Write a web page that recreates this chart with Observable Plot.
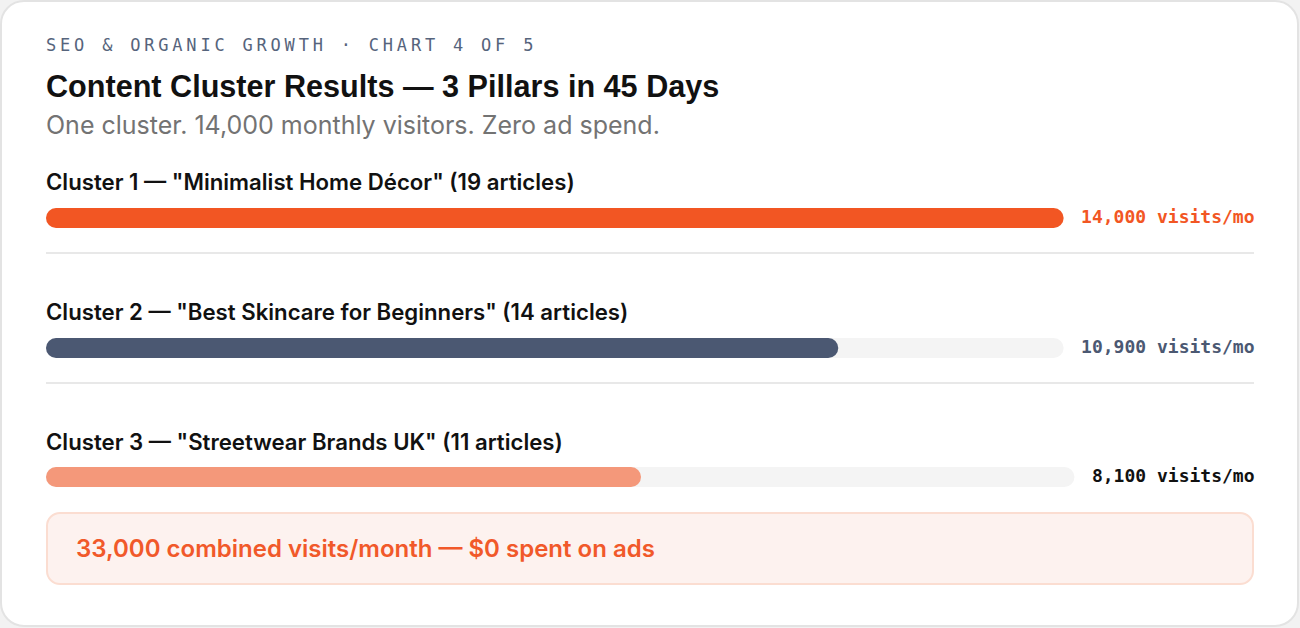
<!DOCTYPE html>
<html><head><meta charset="utf-8">
<script src="https://cdn.jsdelivr.net/npm/d3@7"></script>
<script src="https://cdn.jsdelivr.net/npm/@observablehq/plot@0.6"></script>
<style>
html,body{margin:0;padding:0}
body{background:#f2f2f2;width:1300px;height:628px;overflow:hidden;font-family:Inter,"Noto Sans",sans-serif;position:relative}
.card{position:absolute;left:0;top:0;width:1299px;height:627px;box-sizing:border-box;background:#fff;border:2px solid #e3e3e3;border-radius:24px}
.abs{position:absolute;white-space:nowrap}
.eyebrow{left:46px;top:35px;font-family:"DejaVu Sans Mono",monospace;font-size:17px;letter-spacing:3.8px;color:#56647c;line-height:20px}
.title{left:46px;top:68px;font-family:"Liberation Sans",Arial,sans-serif;font-weight:700;font-size:30.6px;line-height:36px;color:#111}
.subtitle{left:46px;top:110px;font-size:25px;line-height:30px;color:#737373}
.rowlabel{left:46px;font-size:22.2px;font-weight:600;line-height:26px;color:#111}
.sep{left:46px;width:1208px;height:2px;background:#e8e8e8}
.plotwrap{left:46px;width:1208px;height:20px}
.plotwrap svg{overflow:visible;display:block}
.summary{left:46px;top:512px;width:1208px;height:73px;box-sizing:border-box;background:#fdf2ef;border:2px solid #fbddd1;border-radius:14px}
.summary span{position:absolute;left:28px;top:21px;font-size:24px;font-weight:600;line-height:28px;color:#f1592a}
</style></head>
<body>
<div class="card" id="card"></div>
<script>
// ---- data ----
const eyebrow = "SEO & ORGANIC GROWTH · CHART 4 OF 5";
const title = "Content Cluster Results — 3 Pillars in 45 Days";
const subtitle = "One cluster. 14,000 monthly visitors. Zero ad spend.";
const clusters = [
  'Cluster 1 — "Minimalist Home Décor" (19 articles)',
  'Cluster 2 — "Best Skincare for Beginners" (14 articles)',
  'Cluster 3 — "Streetwear Brands UK" (11 articles)'
];
const visits = [14000, 10900, 8100];
const unit = "visits/mo";
const summaryText = "33,000 combined visits/month — $0 spent on ads";
const barColors = ["#f25623", "#4b5872", "#f4987a"];
const labelColors = ["#f25623", "#4b5872", "#111111"];

// ---- layout ----
function add(cls, text, style) {
  const d = document.createElement("div");
  d.className = "abs " + cls;
  if (text != null) d.textContent = text;
  if (style) Object.assign(d.style, style);
  document.body.appendChild(d);
  return d;
}
add("eyebrow", eyebrow);
add("title", title);
add("subtitle", subtitle);

const fmt = d3.format(",");
const maxV = d3.max(visits);
const W = 1208;
const monoFont = "bold 18px 'DejaVu Sans Mono'";
const canvas = document.createElement("canvas").getContext("2d");
canvas.font = monoFont;
const rowTop = [169, 299, 429];
const barTop = [208, 338, 467];
const sepTop = [252, 382];

clusters.forEach((name, i) => {
  add("rowlabel", name, {top: rowTop[i] + "px"});
  const label = `${fmt(visits[i])} ${unit}`;
  const lw = canvas.measureText(label).width;
  const gap = 17;
  const trackW = W - lw - gap;
  const wrap = add("plotwrap", null, {top: barTop[i] + "px"});
  const datum = [{v: visits[i], label}];
  const chart = Plot.plot({
    width: W,
    height: 20,
    marginTop: 0, marginBottom: 0, marginLeft: 0,
    marginRight: W - trackW,
    x: {domain: [0, maxV], axis: null},
    marks: [
      Plot.barX([{v: maxV}], {x: "v", fill: "#f4f4f4", rx: 10}),
      Plot.barX(datum, {x: "v", fill: barColors[i], rx: 10}),
      Plot.text([{v: maxV, label}], {
        x: "v", text: "label", dx: gap, dy: -1, textAnchor: "start",
        fill: labelColors[i], fontSize: 18, fontWeight: "bold",
        fontFamily: "'DejaVu Sans Mono', monospace"
      })
    ]
  });
  chart.style.background = "transparent";
  wrap.appendChild(chart);
  if (i < sepTop.length) add("sep", null, {top: sepTop[i] + "px"});
});

const s = add("summary", null);
const sp = document.createElement("span");
sp.textContent = summaryText;
s.appendChild(sp);
</script>
</body></html>
